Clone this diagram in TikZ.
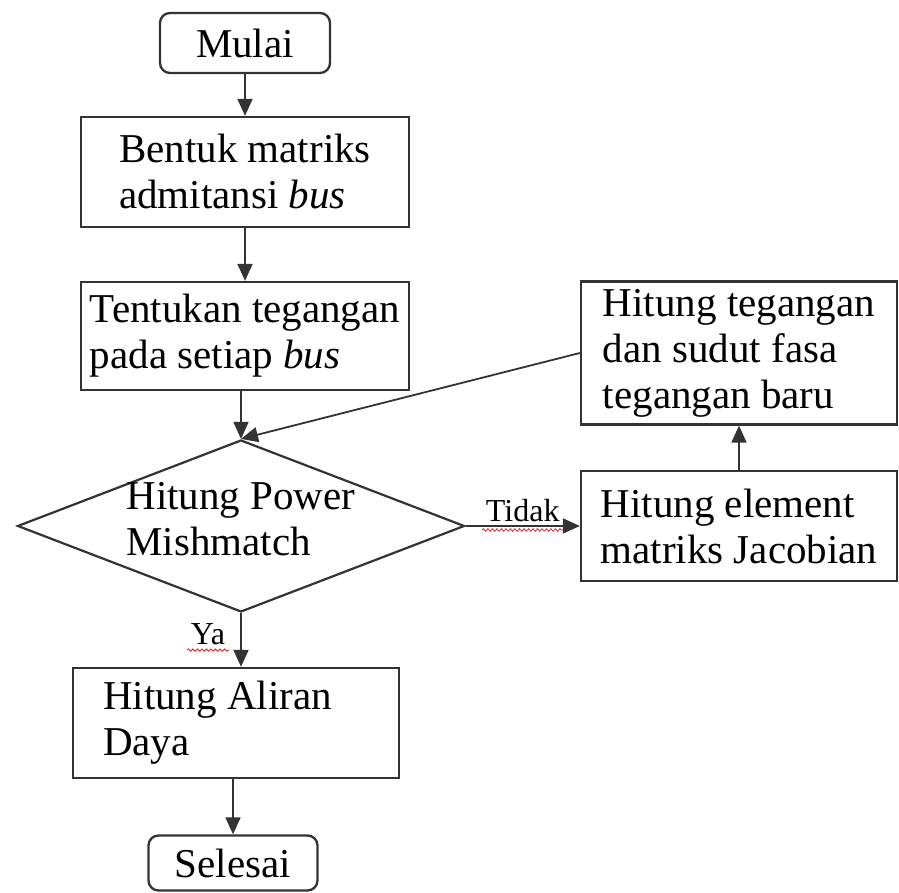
\documentclass[tikz,border=0pt]{standalone}
\usepackage{fontspec}
\setmainfont{Liberation Serif}
\usetikzlibrary{arrows.meta,positioning,shapes.geometric,decorations.pathmorphing}
\definecolor{garis}{HTML}{333333}
\definecolor{ejaan}{HTML}{E02020}
\tikzset{
  base/.style={align=left, inner sep=0pt, text=black, font=\fontsize{41}{46}\selectfont},
  kotak/.style={base, draw=garis, line width=2.3pt},
  ujung/.style={kotak, rounded corners=10pt},
  putusan/.style={diamond, draw=garis, line width=2.2pt, inner sep=0pt, minimum width=447pt, minimum height=172pt},
  arr/.style={-{Triangle[length=17pt,width=15pt]}, line width=1.8pt, draw=garis},
  lab/.style={font=\fontsize{32}{34}\selectfont, text=black, inner sep=3pt},
  squig/.style={draw=ejaan, line width=0.8pt, decorate, decoration={snake, amplitude=1.2pt, segment length=4.5pt}},
}

\begin{document}
\begin{tikzpicture}[x=1pt,y=1pt]
    \useasboundingbox (0,0) rectangle (899,893);
    % main column
    \node[ujung, minimum width=170pt, minimum height=60pt] (mulai) at (245,850) {Mulai};
    \node[kotak, minimum width=328pt, minimum height=110pt] (bentuk) at (245,721) {Bentuk matriks\\admitansi \textit{bus}};
    \node[kotak, minimum width=328pt, minimum height=108pt] (tentukan) at (245,557) {Tentukan tegangan\\pada setiap \textit{bus}};
    \node[putusan] (cek) at (241,367) {};
    \node[base] (cektxt) at (241,374) {Hitung Power\\Mishmatch};
    \node[kotak, minimum width=326pt, minimum height=110pt, text width=266pt, align=flush left] (aliran) at (236,170) {Hitung Aliran\\Daya};
    \node[ujung, minimum width=169pt, minimum height=55pt] (selesai) at (233,30) {Selesai};
    % loop on the right
    \node[kotak, minimum width=316pt, minimum height=110pt] (jacobian) at (739,367) {Hitung element\\matriks Jacobian};
    \node[kotak, minimum width=316pt, minimum height=143pt] (baru) at (739,540) {Hitung tegangan\\dan sudut fasa\\tegangan baru};

    \draw[arr] (mulai) -- (bentuk);
    \draw[arr] (bentuk) -- (tentukan);
    \draw[arr] (cek.north |- tentukan.south) -- (cek.north);
    \draw[arr] (baru.west) -- (cek.north);
    \draw[arr] (cek.east) -- node[lab, above] (tidak) {Tidak} (jacobian.west);
    \draw[arr] (jacobian) -- (baru);
    \draw[arr] (cek.south) -- node[lab, left=12pt, pos=0.4] (ya) {Ya} (cek.south |- aliran.north);
    \draw[arr] (aliran.south -| selesai.north) -- (selesai.north);
    % spelling marks
    \draw[squig] ([yshift=-4pt]tidak.south west) -- ([yshift=-4pt]tidak.south east);
    \draw[squig] ([yshift=-1pt]ya.south west) -- ([yshift=-1pt]ya.south east);
\end{tikzpicture}
\end{document}
